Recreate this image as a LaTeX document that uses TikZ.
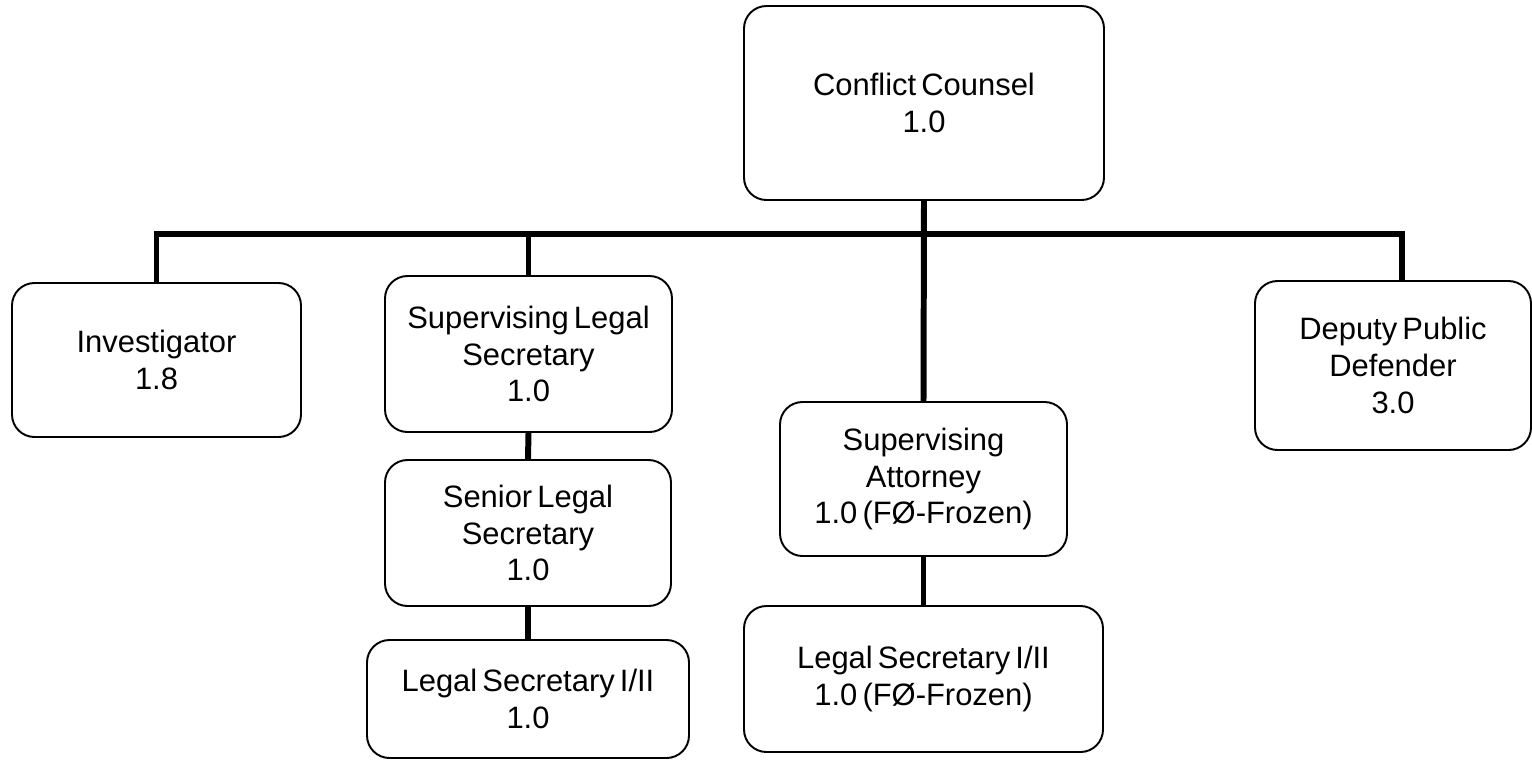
\documentclass[tikz,border=0pt]{standalone}
\usepackage{fontspec}
\setmainfont{Liberation Sans}[WordSpace=0.6]
\begin{document}
\begin{tikzpicture}[
			post/.style={draw,line width=1.1pt,rounded corners=0.45cm,align=center,inner sep=2pt,font=\fontsize{17.6}{21}\selectfont},
			link/.style={line width=3.4pt}]
			\useasboundingbox (0,0) rectangle (30.64,-15.2);
			\node[post,minimum width=7.2cm,minimum height=3.88cm] (counsel) at (18.48,-2.06) {Conflict Counsel\\1.0};
			\node[post,minimum width=5.78cm,minimum height=3.08cm] (invest) at (3.13,-7.2) {Investigator\\1.8};
			\node[post,minimum width=5.74cm,minimum height=3.12cm] (suplegal) at (10.57,-7.08) {Supervising Legal\\Secretary\\1.0};
			\node[post,minimum width=5.72cm,minimum height=2.92cm] (senlegal) at (10.56,-10.66) {Senior Legal\\Secretary\\1.0};
			\node[post,minimum width=6.44cm,minimum height=2.36cm] (legalone) at (10.56,-13.98) {Legal Secretary I/II\\1.0};
			\node[post,minimum width=5.74cm,minimum height=3.08cm] (supatty) at (18.47,-9.58) {Supervising\\Attorney\\1.0 (FØ-Frozen)};
			\node[post,minimum width=7.18cm,minimum height=2.92cm] (legaltwo) at (18.47,-13.58) {Legal Secretary I/II\\1.0 (FØ-Frozen)};
			\node[post,minimum width=5.52cm,minimum height=3.38cm] (deputy) at (27.86,-7.31) {Deputy Public\\Defender\\3.0};
			\coordinate (bus) at (0,-4.68);
			\coordinate (deputytop) at ([xshift=0.18cm]deputy.north);
			\draw[link] (invest.north) -- (invest.north |- bus) -- (deputytop |- bus) -- (deputytop);
			\draw[link] (suplegal.north) -- (suplegal.north |- bus);
			\draw[link] (counsel.south) -- (supatty.north);
			\draw[link] (suplegal.south) -- (senlegal.north);
			\draw[link] (senlegal.south) -- (legalone.north);
			\draw[link] (supatty.south) -- (legaltwo.north);
		\end{tikzpicture}
\end{document}
